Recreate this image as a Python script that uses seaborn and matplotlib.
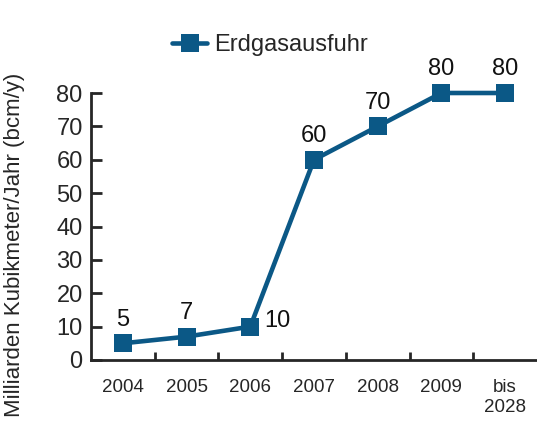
import matplotlib
matplotlib.use("Agg")
import matplotlib.pyplot as plt
from matplotlib.ticker import FixedLocator
from matplotlib.lines import Line2D
import seaborn as sns
import numpy as np
import pandas as pd

# Data
jahre = ["2004", "2005", "2006", "2007", "2008", "2009", "bis\n2028"]
ausfuhr = [5, 7, 10, 60, 70, 80, 80]

sns.set_style("ticks")
plt.rcParams['font.family'] = ['Liberation Sans', 'DejaVu Sans']

farbe = "#0b5886"
df = pd.DataFrame({"jahr": jahre, "wert": ausfuhr})

fig = plt.figure(figsize=(5.37, 4.24), dpi=100)
ax = fig.add_axes([91/537, 1 - 360/424, 1 - 91/537, (360 - 93)/424])

sns.lineplot(data=df, x="jahr", y="wert", ax=ax, color=farbe, marker="s",
             markersize=13, linewidth=3.3, markeredgewidth=0,
             clip_on=False, legend=False)

# value labels
for i, v in enumerate(ausfuhr):
    if jahre[i] == "2006":
        ax.annotate(str(v), (i, v), xytext=(10, 4), textcoords="offset points",
                    ha="left", va="center", fontsize=17, color="#111111")
    else:
        ax.annotate(str(v), (i, v), xytext=(0, 17), textcoords="offset points",
                    ha="center", va="center", fontsize=17, color="#111111")

ax.set_xlim(-0.5, len(jahre) - 0.5)
ax.set_ylim(0, 80)
ax.set_yticks(np.arange(0, 81, 10))
ax.set_xticks(range(len(jahre)))
ax.set_xticklabels(jahre)
ax.xaxis.set_minor_locator(FixedLocator(np.arange(0.5, len(jahre) - 1, 1)))

ax.tick_params(axis="x", which="major", length=0, pad=14, labelsize=13.5)
ax.tick_params(axis="x", which="minor", length=6, width=2, direction="in")
ax.tick_params(axis="y", length=8, width=2, direction="in", pad=6, labelsize=17)

for s in ["top", "right"]:
    ax.spines[s].set_visible(False)
for s in ["left", "bottom"]:
    ax.spines[s].set_linewidth(2)

ax.set_xlabel("")
ax.set_ylabel("Milliarden Kubikmeter/Jahr (bcm/y)", fontsize=16)
ax.yaxis.set_label_coords(-0.148, 0.43)

h = Line2D([], [], color=farbe, marker="s", markersize=13, linewidth=3.3, markeredgewidth=0)
fig.legend([h], ["Erdgasausfuhr"], loc="center", bbox_to_anchor=(270/537, 1 - 45/424),
           frameon=False, fontsize=17, handlelength=1.5, handletextpad=0.3)

fig.savefig("out.png", dpi=100)
